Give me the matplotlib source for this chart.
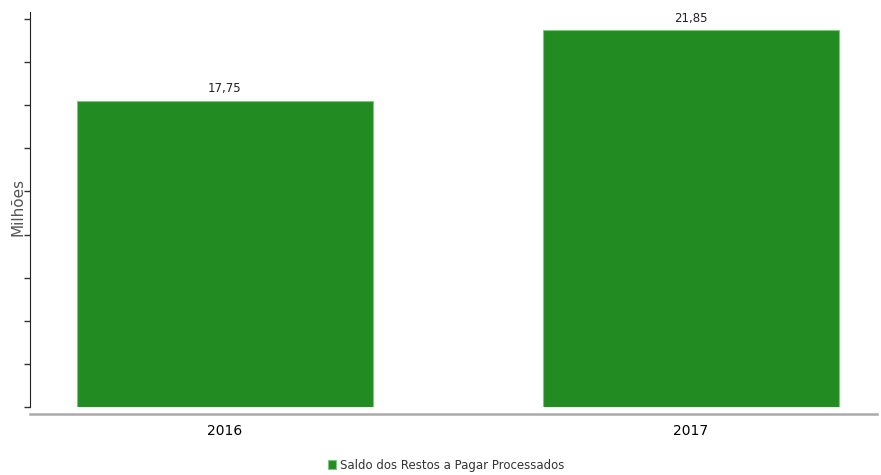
import matplotlib.pyplot as plt
import numpy as np

# dados
anos = ['2016', '2017']
valores = [17.75, 21.85]
serie = 'Saldo dos Restos a Pagar Processados'

fig = plt.figure(figsize=(8.81, 4.75), dpi=100)
ax = fig.add_axes([30 / 881, 68 / 475, 847 / 881, 395 / 475])

x = np.arange(len(anos))
ax.bar(x, valores, width=0.635, color='#228B22', edgecolor='#7fc77f', linewidth=0.8, label=serie)

for xi, v in zip(x, valores):
    ax.annotate(f'{v:.2f}'.replace('.', ','), (xi, v), xytext=(0, 4), textcoords='offset points',
                ha='center', va='bottom', fontsize=8.5, color='#222222')

ax.set_xlim(-0.418, 1.399)
ax.set_ylim(0, 22.91)
ax.set_yticks(np.arange(0, 22.6, 2.5))
ax.set_yticklabels([])
ax.tick_params(axis='y', direction='out', length=4, width=1, color='#333333')
ax.set_xticks(x)
ax.set_xticklabels(anos, fontsize=9, color='#333333')
ax.tick_params(axis='x', length=0, pad=7)

for s in ['top', 'right']:
    ax.spines[s].set_visible(False)
ax.spines['left'].set_color('#222222')
ax.spines['bottom'].set_position(('outward', 5))
ax.spines['bottom'].set_color('#aaaaaa')
ax.spines['bottom'].set_linewidth(1.8)

ax.set_ylabel('Milhões', fontsize=11, color='#555555')
ax.yaxis.set_label_coords(-0.005, 0.506)

fig.legend(loc='center', bbox_to_anchor=(0.506, 0.021), frameon=False, fontsize=8.5,
           handlelength=0.7, handleheight=0.7, handletextpad=0.3, labelcolor='#333333')

plt.savefig('out.png', dpi=100)
